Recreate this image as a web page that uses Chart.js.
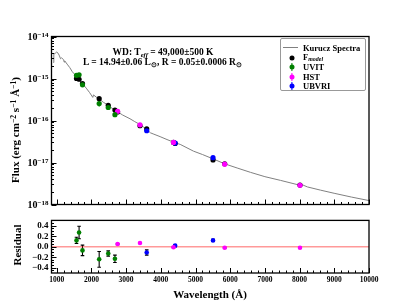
<!DOCTYPE html>
<html><head><meta charset="utf-8">
<script src="https://cdn.jsdelivr.net/npm/chart.js@4/dist/chart.umd.min.js"></script>
<style>
html,body{margin:0;padding:0;background:#fff;}
#wrap{position:relative;width:411px;height:308px;overflow:hidden;font-family:"Liberation Serif","Times New Roman",serif;color:#000;}
canvas{position:absolute;left:0;}
.t{position:absolute;white-space:nowrap;font-weight:bold;line-height:1;}
.c{transform:translate(-50%,-50%);}
.r{transform:translate(-50%,-50%) rotate(-90deg);}
sup,sub{font-size:70%;line-height:0;position:relative;vertical-align:baseline;}
sup{top:-0.45em;} sub{top:0.3em;}
#leg{position:absolute;left:280px;top:38px;width:86px;height:53px;border:1px solid #999;border-radius:2px;box-sizing:border-box;background:#fff;}
.li{position:absolute;left:22px;font-size:8.5px;font-weight:bold;white-space:nowrap;transform:translateY(-50%);line-height:1;}
.dot{position:absolute;width:5px;height:5px;border-radius:50%;transform:translate(-50%,-50%);}
.eb{position:absolute;width:1.2px;height:8px;transform:translate(-50%,-50%);}
</style></head><body>
<div id="wrap">
<canvas id="c1" width="411" height="212" style="top:0"></canvas>
<canvas id="c2" width="411" height="96" style="top:212px"></canvas>

<div class="t c" style="left:163px;top:53px;font-size:9.5px;">WD: T<sub><i>eff</i></sub> = 49,000±500 K</div>
<div class="t c" style="left:162.5px;top:63px;font-size:9.5px;">L = 14.94±0.06 L<sub>⊙</sub>, R = 0.05±0.0006 R<sub>⊙</sub></div>

<div id="leg">
  <div style="position:absolute;left:2px;top:7.8px;width:15px;height:1.4px;background:#808080;"></div>
  <div class="li" style="top:8.5px;">Kurucz Spectra</div>
  <div class="dot" style="left:10.5px;top:18.5px;background:#000;"></div>
  <div class="li" style="top:17.5px;">F<sub><i>model</i></sub></div>
  <div class="eb" style="left:10.5px;top:28px;background:#008000;"></div>
  <div class="dot" style="left:10.5px;top:28px;background:#008000;"></div>
  <div class="li" style="top:28px;">UVIT</div>
  <div class="eb" style="left:10.5px;top:37.5px;background:#ff00ff;"></div>
  <div class="dot" style="left:10.5px;top:37.5px;background:#ff00ff;"></div>
  <div class="li" style="top:37.5px;">HST</div>
  <div class="eb" style="left:10.5px;top:47px;background:#0000ff;"></div>
  <div class="dot" style="left:10.5px;top:47px;background:#0000ff;"></div>
  <div class="li" style="top:47px;">UBVRI</div>
</div>

<div class="t r" style="left:15px;top:130px;font-size:11px;">Flux (erg cm<sup>−2</sup> s<sup>−1</sup> Å<sup>−1</sup>)</div>
<div class="t r" style="left:17px;top:245px;font-size:11px;">Residual</div>
<div class="t c" style="left:210px;top:294px;font-size:11px;">Wavelength (Å)</div>
</div>

<script>
// ---------------- DATA ----------------
const specWave = [900,915,918,960,1000,1040,1080,1110,1140,1200,1216,1231,1300,1376,1450,1500,1579,1650,1752,1850,1950,2040,2060,2150,2244,2350,2476,2560,2649,2745,2900,3112,3250,3402,3500,3604,3700,3778,3980,4150,4385,4559,4944,5200,5505,5841,6200,6584,7000,7452,8011,8100,8225,8600,8995,9500,10000];
const specFlux = [2.4e-15,2.4e-15,3.8e-15,4.0e-15,4.27e-15,4.0e-15,3.45e-15,2.95e-15,3.1e-15,2.8e-15,2.45e-15,2.63e-15,2.2e-15,1.82e-15,1.45e-15,1.3e-15,1.07e-15,9.2e-16,7.35e-16,5.9e-16,4.6e-16,3.55e-16,4.07e-16,3.55e-16,3.13e-16,2.7e-16,2.33e-16,2.05e-16,1.84e-16,1.63e-16,1.35e-16,1.1e-16,9.4e-17,8.0e-17,7.0e-17,6.0e-17,5.1e-17,4.8e-17,4.13e-17,3.6e-17,3.0e-17,2.7e-17,1.86e-17,1.55e-17,1.22e-17,9.3e-18,7.4e-18,5.83e-18,4.6e-18,3.75e-18,2.87e-18,2.9e-18,2.62e-18,2.2e-18,1.85e-18,1.5e-18,1.24e-18];

const uvitWave = [1570,1645,1743,2224,2485,2678];
const uvitFlux = [1.19e-15,1.22e-15,7.08e-16,2.53e-16,2.04e-16,1.38e-16];
const uvitFluxErr = [7e-17,1.4e-16,7e-17,3.8e-17,1.0e-17,1.0e-17];
const uvitModel = [1.0e-15,9.6e-16,7.6e-16,3.3e-16,2.31e-16,1.77e-16];
const uvitResid = [0.12,0.27,-0.07,-0.24,-0.13,-0.23];
const uvitResidErr = [0.06,0.12,0.1,0.15,0.05,0.07];

const hstWave = [2755,3400,4366,5841,8011];
const hstFlux = [1.65e-16,7.9e-17,3.0e-17,9.1e-18,2.87e-18];
const hstFluxErr = [5e-18,2.4e-18,9e-19,2.7e-19,9e-20];
const hstModel = [1.6e-16,7.5e-17,3.0e-17,9.3e-18,2.9e-18];
const hstResid = [0.05,0.07,-0.01,-0.02,-0.02];
const hstResidErr = [0.01,0.01,0.01,0.01,0.01];

const ubvWave = [3594,4414,5505];
const ubvFlux = [5.7e-17,2.9e-17,1.3e-17];
const ubvFluxErr = [3e-18,1.5e-18,1.0e-18];
const ubvModel = [6.3e-17,2.85e-17,1.15e-17];
const ubvResid = [-0.11,0.02,0.12];
const ubvResidErr = [0.05,0.02,0.02];

const xTicks = [1000,2000,3000,4000,5000,6000,7000,8000,9000,10000];
const fluxTicks = [1e-18,1e-17,1e-16,1e-15,1e-14];
const residTicks = [-0.4,-0.2,0.0,0.2,0.4];

// ---------------- HELPERS ----------------
const XMIN = 850, XMAX = 10000;
const GREEN = '#008000', MAG = '#ff00ff', BLUE = '#0000ff';
const FAM = '"Liberation Serif", serif';
const FONT = {family:FAM, size:7.5, weight:'bold'};
const FONT_Y2 = {family:FAM, size:9, weight:'bold'};
Chart.defaults.color = '#000';
const pts = (xs, ys) => xs.map((x,i)=>({x:x, y:ys[i]}));

function errPlugin(groups, cap){
  return {id:'err', beforeDatasetsDraw(chart){
    const ctx = chart.ctx, xs = chart.scales.x, ys = chart.scales.y;
    ctx.save();
    groups.forEach(g=>{
      ctx.strokeStyle = g.color; ctx.lineWidth = 1.1;
      g.x.forEach((x,i)=>{
        const px = xs.getPixelForValue(x);
        const p1 = ys.getPixelForValue(g.y[i]-g.e[i]);
        const p2 = ys.getPixelForValue(g.y[i]+g.e[i]);
        ctx.beginPath(); ctx.moveTo(px,p1); ctx.lineTo(px,p2);
        if(cap){ ctx.moveTo(px-cap,p1); ctx.lineTo(px+cap,p1); ctx.moveTo(px-cap,p2); ctx.lineTo(px+cap,p2); }
        ctx.stroke();
      });
    });
    ctx.restore();
  }};
}

function framePlugin(yMinor, yMajor, logLabels){
  return {id:'frame', afterDraw(chart){
    const ctx = chart.ctx, a = chart.chartArea, xs = chart.scales.x, ys = chart.scales.y;
    ctx.save();
    ctx.strokeStyle = '#000'; ctx.lineWidth = 1;
    ctx.beginPath();
    for(let v=1000; v<=XMAX; v+=200){
      const px = Math.round(xs.getPixelForValue(v))+0.5;
      const len = (v%1000===0)?5:2.5;
      ctx.moveTo(px,a.bottom); ctx.lineTo(px,a.bottom-len);
    }
    yMinor.forEach(v=>{ const py=Math.round(ys.getPixelForValue(v))+0.5; ctx.moveTo(a.left,py); ctx.lineTo(a.left+2.5,py); });
    yMajor.forEach(v=>{ const py=Math.round(ys.getPixelForValue(v))+0.5; ctx.moveTo(a.left,py); ctx.lineTo(a.left+5,py); });
    ctx.stroke();
    ctx.lineWidth = 1.3;
    ctx.strokeRect(a.left, a.top, a.right-a.left, a.bottom-a.top);
    if(logLabels){
      // decade labels "10" with a raised exponent, placed at the log scale's tick pixels
      ctx.fillStyle = '#000'; ctx.textBaseline = 'alphabetic';
      ys.ticks.forEach(t=>{
        const py = ys.getPixelForValue(t.value);
        const ex = '−' + Math.abs(Math.round(Math.log10(t.value)));
        const right = a.left - 3;
        ctx.font = 'bold 7px ' + FAM; ctx.textAlign = 'right';
        const ew = ctx.measureText(ex).width;
        ctx.fillText(ex, right, py + 0.5);
        ctx.font = 'bold 10px ' + FAM;
        ctx.fillText('10', right - ew, py + 3.5);
      });
    }
    ctx.restore();
  }};
}

// log minor ticks
const logMinor = [];
for(let e=-18; e<-14; e++){ for(let m=2; m<=9; m++){ logMinor.push(m*Math.pow(10,e)); } }
const linMinor = [];
for(let v=-0.45; v<=0.46; v+=0.05){ linMinor.push(Math.round(v*100)/100); }

// ---------------- TOP CHART ----------------
new Chart(document.getElementById('c1'), {
  type:'scatter',
  data:{datasets:[
    {type:'line', label:'Kurucz Spectra', data:pts(specWave,specFlux), borderColor:'#808080', borderWidth:1, pointRadius:0, fill:false, tension:0, order:3},
    {label:'F_model', data:pts(uvitWave.concat(hstWave,ubvWave), uvitModel.concat(hstModel,ubvModel)), backgroundColor:'#000', borderColor:'#000', pointRadius:2.6, borderWidth:0, order:2},
    {label:'UVIT', data:pts(uvitWave,uvitFlux), backgroundColor:GREEN, borderColor:GREEN, pointRadius:2.6, borderWidth:0, order:1},
    {label:'HST', data:pts(hstWave,hstFlux), backgroundColor:MAG, borderColor:MAG, pointRadius:2.6, borderWidth:0, order:1},
    {label:'UBVRI', data:pts(ubvWave,ubvFlux), backgroundColor:BLUE, borderColor:BLUE, pointRadius:2.6, borderWidth:0, order:1}
  ]},
  options:{
    responsive:false, animation:false, devicePixelRatio:1,
    layout:{padding:{left:0,right:42,top:36.5,bottom:2}},
    plugins:{legend:{display:false}, tooltip:{enabled:false}},
    scales:{
      x:{type:'linear', min:XMIN, max:XMAX, display:false},
      y:{type:'logarithmic', min:1e-18, max:1e-14,
         grid:{display:false, drawTicks:false}, border:{display:false},
         afterBuildTicks:s=>{ s.ticks = fluxTicks.map(v=>({value:v})); },
         afterFit:s=>{ s.width = 51.5; },
         ticks:{font:FONT, padding:3, color:'#000', autoSkip:false, callback:()=>''}}
    }
  },
  plugins:[errPlugin([
    {x:uvitWave,y:uvitFlux,e:uvitFluxErr,color:GREEN},
    {x:hstWave,y:hstFlux,e:hstFluxErr,color:MAG},
    {x:ubvWave,y:ubvFlux,e:ubvFluxErr,color:BLUE}], 0), framePlugin(logMinor, fluxTicks, true)]
});

// ---------------- RESIDUAL CHART ----------------
new Chart(document.getElementById('c2'), {
  type:'scatter',
  data:{datasets:[
    {type:'line', label:'zero', data:[{x:XMIN,y:0},{x:XMAX,y:0}], borderColor:'rgba(255,0,0,0.4)', borderWidth:1.5, pointRadius:0, order:3},
    {label:'UVIT', data:pts(uvitWave,uvitResid), backgroundColor:GREEN, pointRadius:2.3, borderWidth:0, order:1},
    {label:'HST', data:pts(hstWave,hstResid), backgroundColor:MAG, pointRadius:2.3, borderWidth:0, order:1},
    {label:'UBVRI', data:pts(ubvWave,ubvResid), backgroundColor:BLUE, pointRadius:2.3, borderWidth:0, order:1}
  ]},
  options:{
    responsive:false, animation:false, devicePixelRatio:1,
    layout:{padding:{left:0,right:42,top:4,bottom:0}},
    plugins:{legend:{display:false}, tooltip:{enabled:false}},
    scales:{
      x:{type:'linear', min:XMIN, max:XMAX,
         grid:{display:false, drawTicks:false}, border:{display:false},
         afterBuildTicks:s=>{ s.ticks = xTicks.map(v=>({value:v})); },
         afterFit:s=>{ s.height = 35; },
         ticks:{font:FONT, padding:3, color:'#000', maxRotation:0, autoSkip:false, callback:v=>String(v)}},
      y:{type:'linear', min:-0.5, max:0.5,
         grid:{display:false, drawTicks:false}, border:{display:false},
         afterBuildTicks:s=>{ s.ticks = residTicks.map(v=>({value:v})); },
         afterFit:s=>{ s.width = 51.5; },
         ticks:{font:FONT_Y2, padding:3, color:'#000', autoSkip:false, callback:v=>(v<0?'−':'')+Math.abs(v).toFixed(1)}}
    }
  },
  plugins:[errPlugin([
    {x:uvitWave,y:uvitResid,e:uvitResidErr,color:'#000'},
    {x:hstWave,y:hstResid,e:hstResidErr,color:'#000'},
    {x:ubvWave,y:ubvResid,e:ubvResidErr,color:'#000'}], 1.8), framePlugin(linMinor, residTicks, false)]
});
</script>
</body></html>
